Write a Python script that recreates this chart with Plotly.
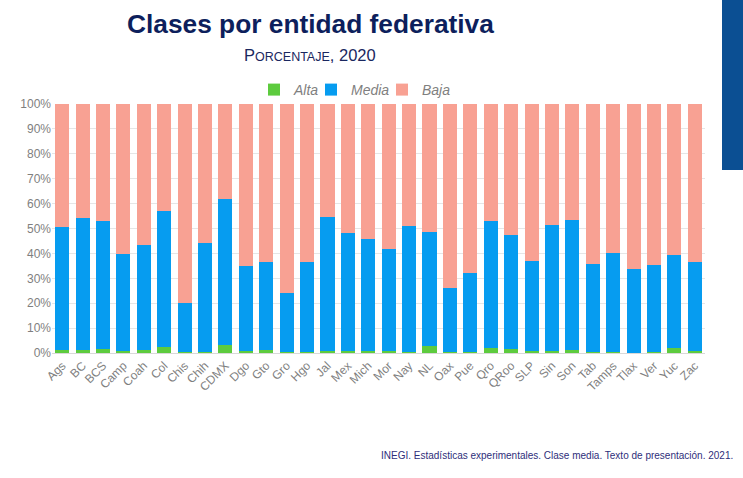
import plotly.graph_objects as go

# Entidades federativas
entidades = ["Ags", "BC", "BCS", "Camp", "Coah", "Col", "Chis", "Chih", "CDMX", "Dgo",
             "Gto", "Gro", "Hgo", "Jal", "Mex", "Mich", "Mor", "Nay", "NL", "Oax",
             "Pue", "Qro", "QRoo", "SLP", "Sin", "Son", "Tab", "Tamps", "Tlax", "Ver",
             "Yuc", "Zac"]

# Porcentajes por clase
alta = [1.1, 1.2, 1.7, 0.8, 1.2, 2.5, 0.3, 0.6, 3.1, 0.7,
        1.1, 0.3, 0.3, 1.0, 1.0, 0.8, 0.7, 0.6, 2.8, 0.4,
        0.4, 2.2, 1.5, 0.8, 1.0, 1.4, 0.3, 0.5, 0.2, 0.3,
        2.2, 0.8]
media = [49.5, 53.0, 51.2, 38.9, 42.1, 54.7, 19.6, 43.5, 58.9, 34.2,
         35.4, 23.9, 36.2, 53.8, 47.0, 44.8, 41.0, 50.3, 45.6, 25.6,
         31.7, 50.8, 45.9, 36.1, 50.3, 52.1, 35.5, 39.6, 33.5, 35.0,
         37.1, 35.7]
baja = [round(100 - a - m, 1) for a, m in zip(alta, media)]

colores = {"Alta": "#5DCB3E", "Media": "#069CF0", "Baja": "#F8A193"}

# tamano de la figura y margenes (px)
W, H = 743, 478
ml, mr, mt, mb = 52, 38, 104, 125
pw, ph = W - ml - mr, H - mt - mb


def px(x, y):
    # pixel de la pagina -> coordenadas de papel
    return (x - ml) / pw, (H - mb - y) / ph


fig = go.Figure()
for nombre, valores, ancho in [("Alta", alta, 12), ("Media", media, 26), ("Baja", baja, 30)]:
    fig.add_trace(go.Bar(x=entidades, y=valores, name=nombre, legendwidth=ancho,
                         marker=dict(color=colores[nombre], line=dict(width=0))))

lx, ly = px(254, 106)
fig.update_layout(
    barmode="stack",
    bargap=0.31,
    width=W, height=H,
    paper_bgcolor="white", plot_bgcolor="white",
    font=dict(family="Liberation Sans, Arial", color="#7f7f7f"),
    margin=dict(l=ml, r=mr, t=mt, b=mb),
    showlegend=True,
    legend=dict(orientation="h", x=lx, xanchor="left", y=ly, yanchor="bottom",
                bgcolor="rgba(0,0,0,0)",
                font=dict(size=14, color="#7f7f7f", style="italic"),
                itemwidth=30, traceorder="normal"),
    xaxis=dict(tickangle=-45, tickfont=dict(size=12, color="#7f7f7f"),
               showline=True, linecolor="#d9d9d9", ticks=""),
    yaxis=dict(range=[0, 100], dtick=10, ticksuffix="%", gridcolor="#e6e6e6",
               tickfont=dict(size=12, color="#7f7f7f"), zeroline=False),
)

textos = [
    ("<b>Clases por entidad federativa</b>", 310, 24, "center", 26.3, "#0d1f5c"),
    ("P<span style='font-size:12.5px'>ORCENTAJE</span>, 2020", 310, 55, "center", 16.5, "#1a2760"),
    ("INEGI. Estadísticas experimentales. Clase media. Texto de presentación. 2021.",
     735, 455, "right", 10, "#2e2e7a"),
]
for texto, x, y, xa, size, color in textos:
    ax, ay = px(x, y)
    fig.add_annotation(text=texto, x=ax, y=ay, xref="paper", yref="paper", showarrow=False,
                       xanchor=xa, yanchor="middle", font=dict(size=size, color=color))

# imagen decorativa de la esquina superior derecha
x0, y0 = px(722, 170)
x1, y1 = px(743, 0)
fig.add_shape(type="rect", xref="paper", yref="paper", x0=x0, x1=x1, y0=y0, y1=y1,
              fillcolor="#0b4f93", line=dict(width=0), layer="below")

fig.write_html("out.html", config={"displayModeBar": False},
               post_script="document.body.style.margin='0';")
